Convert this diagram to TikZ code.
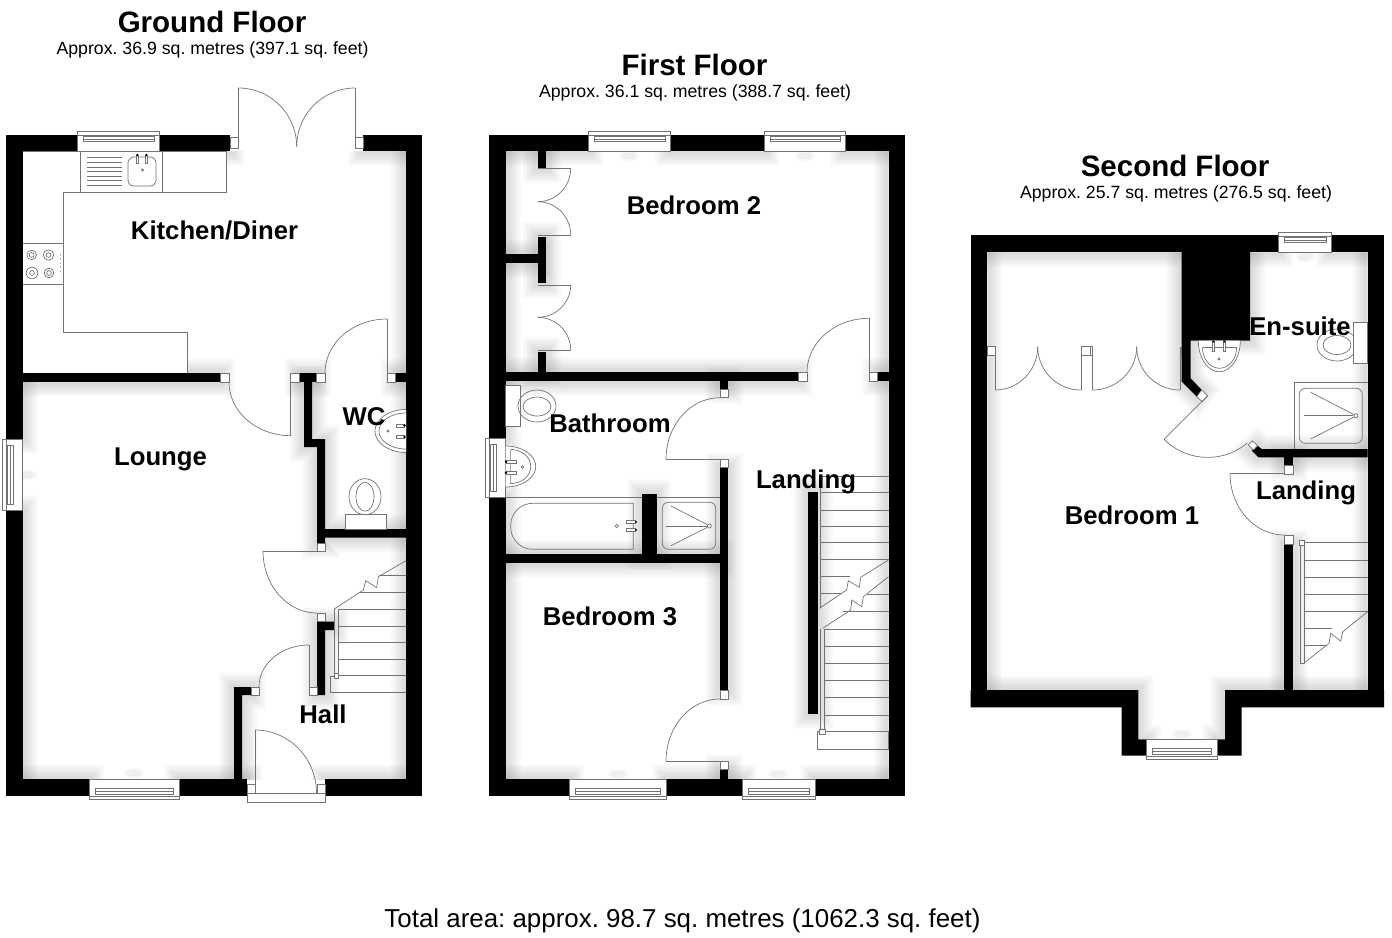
\documentclass[tikz,border=0pt]{standalone}
\usepackage{fontspec}
\setmainfont{Liberation Sans}
\frenchspacing
\definecolor{plan}{gray}{0.45}
\tikzset{
  ln/.style={draw=plan,line width=0.7pt},
  jamb/.style={draw=plan,line width=0.7pt,fill=white},
  wallpart/.style={fill=black},
  room/.style={font=\fontsize{25.7}{30}\bfseries\selectfont,inner sep=0pt},
  floortitle/.style={font=\fontsize{29.5}{33}\bfseries\selectfont,inner sep=0pt},
  floorsub/.style={font=\fontsize{17.7}{20}\selectfont,inner sep=0pt},
  totaltext/.style={font=\fontsize{25.9}{30}\selectfont,inner sep=0pt},
}
\newcommand{\R}[4]{\path[wallpart] (#1,#2) rectangle (#3,#4);}
\newcommand{\J}[4]{\draw[jamb] (#1,#2) rectangle (#3,#4);}
\newcommand{\earc}[6]{\draw[ln] plot[domain=#5:#6,samples=25] ({#1+#3*cos(\x)},{#2+#4*sin(\x)});}
\newcommand{\halfe}[6]{\draw[ln,fill=white] plot[domain=#5:#6,samples=31] ({#1+#3*cos(\x)},{#2+#4*sin(\x)});}
\newcommand{\winT}[3]{% top window protruding upward: x1 x2 inner y
  \draw[jamb] (#1,#3) rectangle (#2,{#3-20});
  \draw[ln] (#1,{#3-16}) -- (#2,{#3-16});
  \draw[ln] ({#1+6},{#3-15}) rectangle ({#2-5},{#3-9.5});
  \draw[ln] ({#1+6},{#3-12}) -- ({#2-5},{#3-12});
}
\newcommand{\winB}[3]{% bottom window protruding downward
  \draw[jamb] (#1,#3) rectangle (#2,{#3+20});
  \draw[ln] (#1,{#3+17}) -- (#2,{#3+17});
  \draw[ln] ({#1+6},{#3+9.5}) rectangle ({#2-6},{#3+15});
  \draw[ln] ({#1+6},{#3+12}) -- ({#2-6},{#3+12});
}
\newcommand{\winL}[3]{% left window: y1 y2 inner x
  \draw[jamb] (#3,#1) rectangle ({#3-20},#2);
  \draw[ln] ({#3-16},#1) -- ({#3-16},#2);
  \draw[ln] ({#3-15},{#1+6}) rectangle ({#3-9.5},{#2-6});
  \draw[ln] ({#3-12},{#1+6}) -- ({#3-12},{#2-6});
}
\newcommand{\blob}[2]{%
  \fill[black,opacity=.03] (#1,#2) ellipse [x radius=10,y radius=5];
  \fill[black,opacity=.03] (#1,#2) ellipse [x radius=7,y radius=3.5];
}
\newcommand{\GroundWalls}{%
  \R{6}{135}{22.5}{439}\R{6}{510}{22.5}{796}
  \R{6}{135}{77}{151}\R{159}{135}{230}{151}\R{363}{135}{422}{151}
  \R{406}{135}{422}{796}
  \R{6}{779}{89}{796}\R{179}{779}{247}{796}\R{325}{779}{422}{796}
  \R{22.5}{373}{220}{382}\R{299}{373}{316.5}{382}\R{395}{373}{406}{382}
  \path[wallpart] (304,382)--(312,382)--(312,439)--(325,439)--(325,529)--(406,529)--(406,537.7)--(325,537.7)--(325,543.5)--(317,543.5)--(317,447)--(304,447)--cycle;
  \path[wallpart] (317,621.5)--(334,621.5)--(334,630)--(325,630)--(325,695)--(317,695)--cycle;
  \path[wallpart] (234,687)--(251,687)--(251,695)--(242,695)--(242,779)--(234,779)--cycle;
}
\newcommand{\FirstWalls}{%
  \R{488.5}{134.5}{505.7}{438.3}\R{488.5}{497.7}{505.7}{795.7}
  \R{488.5}{134.5}{588}{151}\R{670}{134.5}{764}{151}\R{845}{134.5}{905}{151}
  \R{888.5}{134.5}{905}{795.7}
  \R{488.5}{779.3}{569.3}{795.7}\R{666.7}{779.3}{742.3}{795.7}\R{815}{779.3}{905}{795.7}
  \R{537.7}{151}{546}{168.3}\R{537.7}{236.7}{546}{283.3}\R{505.7}{254.3}{537.7}{263.3}\R{537.7}{351.7}{546}{372.3}
  \R{505.7}{372.3}{798.3}{381}\R{877.7}{372.3}{888.5}{381}
  \R{720}{381}{728.3}{389}\R{720}{467.7}{728.3}{690.7}\R{720}{769.3}{728.3}{779.3}
  \R{505.7}{554.3}{720}{562.7}\R{642.3}{494}{656.7}{554.3}
  \R{808.3}{491.7}{818.3}{714}
}
\newcommand{\SecondWalls}{%
  \R{970.7}{235}{1278.3}{252.3}\R{1331}{235}{1384}{252.3}
  \R{970.7}{235}{987.3}{707.3}\R{1367.7}{235}{1384}{707.3}
  \path[wallpart] (970.7,690)--(1138.3,690)--(1138.3,739.3)--(1146,739.3)--(1146,755.7)--(1121.7,755.7)--(1121.7,707.3)--(970.7,707.3)--cycle;
  \path[wallpart] (1217.3,739.3)--(1225,739.3)--(1225,690)--(1384,690)--(1384,707.3)--(1241.7,707.3)--(1241.7,755.7)--(1217.3,755.7)--cycle;
  \path[wallpart] (1181.7,252)--(1250,252)--(1250,340.7)--(1190.7,340.7)--(1190.7,378.3)--(1201.7,390)--(1196.7,396.7)--(1181.7,381.7)--cycle;
  \path[wallpart] (1257.7,445.7)--(1261.7,449)--(1367.7,449)--(1367.7,457.3)--(1258.3,457.3)--(1251.7,450.7)--cycle;
  \R{1284.3}{457.3}{1293.3}{465.7}
  \R{1284.3}{544}{1293.3}{690}
}
\begin{document}
\begin{tikzpicture}[x=1pt,y=-1pt]
\useasboundingbox (0,0) rectangle (1392,937);
% ---- soft shadows in the rooms
\begin{scope}
  \clip (22.5,151) rectangle (406,779);
  \foreach \w in {30,27,24,21,18,15,12,9,6}{
    \tikzset{wallpart/.style={draw=black,opacity=.014,line width=\w pt}}
    \GroundWalls
  }
  \blob{134}{773}\blob{28}{475}
\end{scope}
\begin{scope}
  \clip (505.7,151) rectangle (888.5,779.3);
  \foreach \w in {30,27,24,21,18,15,12,9,6}{
    \tikzset{wallpart/.style={draw=black,opacity=.014,line width=\w pt}}
    \FirstWalls
  }
  \blob{629}{156}\blob{805}{156}\blob{618}{774}\blob{778}{774}
\end{scope}
\begin{scope}
  \clip (987.3,252.3)--(1367.7,252.3)--(1367.7,690)--(1225,690)--(1225,739.3)--(1138.3,739.3)--(1138.3,690)--(987.3,690)--cycle;
  \foreach \w in {30,27,24,21,18,15,12,9,6}{
    \tikzset{wallpart/.style={draw=black,opacity=.014,line width=\w pt}}
    \SecondWalls
  }
  \blob{1305}{257}\blob{1182}{734}
\end{scope}
% ---- kitchen units (white over shadow)
\draw[ln,fill=white] (226,151)--(226,192)--(63,192)--(63,332)--(187.5,332)--(187.5,373)--(22.5,373)--(22.5,151)--cycle;
\draw[ln] (80.7,151) rectangle (162.7,192);
\foreach \y in {157,162,167,171,176,180.5,185}{\draw[ln] (87,\y)--(122,\y);}
\draw[ln,rounded corners=6pt] (128,157) rectangle (156,186);
\draw[ln,fill=white] (136.3,155) rectangle (138.3,163.5);
\draw[ln,fill=white] (145.3,155) rectangle (147.3,163.5);
\fill[black] (137.3,155) circle (1.3); \fill[black] (146.3,155) circle (1.3);
\draw[ln] (142.5,170) circle (1.2);
\draw[ln] (22.5,243) rectangle (63,284);
\foreach \p/\r in {31.7/4.8,48.5/5.2}{
  \draw[ln] (\p,255) circle (\r); \draw[ln] (\p,255) circle (2.4);
}
\foreach \p/\r in {32/5.8,49/4.8}{
  \draw[ln] (\p,273) circle (\r); \draw[ln] (\p,273) circle (2.4);
}
\foreach \y in {255,259,263,267,271}{\fill[plan] (60.5,\y) circle (.7);}
% ---- ground walls
\GroundWalls
\winT{77}{159}{151}
\winB{89}{179}{779}
\winL{439}{510}{22.5}
% french doors
\J{230}{137.5}{238.5}{148}\J{355}{137.5}{363}{148}
\draw[ln] (238.5,137.5)--(238.5,88);\draw[ln] (355,137.5)--(355,88);
\earc{238.5}{146.7}{58.2}{58.7}{270}{360}
\earc{355}{146.7}{58.3}{58.7}{180}{270}
% kitchen to lounge
\J{220}{373}{229}{382}\J{290.7}{373}{299}{382}
\draw[ln] (290.7,382)--(290.7,435.7);
\earc{290.7}{382}{61.7}{53.7}{90}{180}
% WC door
\J{316.5}{373}{325}{382}\J{387}{373}{395}{382}
\draw[ln] (387,373)--(387,319);
\earc{387}{373}{62}{54}{180}{270}
% lounge/hall door
\J{317}{543.5}{325}{551}\J{317}{613}{325}{621.5}
\draw[ln] (317,551)--(263,551);
\earc{317}{551}{54}{62}{90}{180}
% hall door
\J{309}{687}{317}{695}\J{251}{687}{259}{695}
\draw[ln] (309,687)--(309,645);
\earc{309}{687}{50}{42}{180}{270}
% entrance
\draw[jamb] (247,793) rectangle (325,802.7);
\J{247}{784}{255}{793}\J{317}{784}{325}{793}
\draw[ln] (255,784)--(255,730);
\earc{255}{793}{61.5}{63}{270}{360}
% ground stairs
\foreach \y in {609.7,626,642.7,659,675.7,692}{\draw[ln] (338,\y)--(406,\y);}
\draw[ln] (359,592.7)--(406,592.7);\draw[ln] (379,575.7)--(406,575.7);
\draw[ln] (330,676)--(330,692);\draw[ln] (330,676)--(334,676);
\draw[ln] (330,692)--(338,692);
\draw[ln] (334.3,609)--(334.3,676);\draw[ln] (338,609)--(338,676);
\draw[jamb] (334,673) rectangle (338.5,678);
\draw[ln] (334.3,609)--(363.3,590)--(365.7,580.7)--(376.7,587.7)--(378.3,576.7)--(406,560.7);
% WC fixtures
\halfe{406}{431}{31}{21.5}{90}{270}
\halfe{406}{431}{27}{18}{90}{270}
\draw[ln] (388,431) circle (1.2);
\draw[ln,fill=white] (396,424) rectangle (404,427);\fill[black] (404.5,425.5) circle (1.4);
\draw[ln,fill=white] (396,435.5) rectangle (404,438.5);\fill[black] (404.5,437) circle (1.4);
\draw[ln] (365,496.7) ellipse [x radius=16,y radius=18];
\draw[ln] (365,496.7) ellipse [x radius=9,y radius=14.5];
\draw[ln,fill=white] (345,514) rectangle (386,529);
% ---- first walls
\FirstWalls
\winT{588}{670}{151}\winT{764}{845}{151}
\winB{569.3}{666.7}{779.3}\winB{742.3}{815}{779.3}
\winL{438.3}{497.7}{505.7}
% closets
\draw[ln] (537.7,168.3)--(570.7,168.3);
\earc{537.7}{168.3}{33}{33.4}{0}{90}
\earc{537.7}{235}{33}{33.3}{270}{360}
\draw[ln] (537.7,235)--(570.7,235);
\draw[ln] (537.7,285)--(570.7,285);
\earc{537.7}{285}{33}{32.3}{0}{90}
\earc{537.7}{350}{33}{32.7}{270}{360}
\draw[ln] (537.7,350)--(570.7,350);
% bedroom 2 door
\J{798.3}{372.3}{807}{381}\J{869}{372.3}{877.7}{381}
\draw[ln] (869,372.3)--(869,318.3);
\earc{869}{372.3}{62}{54}{180}{270}
% bathroom door
\J{720}{389}{728.3}{397.7}\J{720}{459.3}{728.3}{467.7}
\draw[ln] (720,459.3)--(666,459.3);
\earc{720}{459.3}{54}{61.6}{180}{270}
% bedroom 3 door
\J{720}{690.7}{728.3}{699}\J{720}{761}{728.3}{769.3}
\draw[ln] (720,761)--(666,761);
\earc{720}{761}{54}{62}{180}{270}
% bathroom
\draw[ln,fill=white] (505.7,385.7) rectangle (520,426.7);
\draw[ln] (537,406) ellipse [x radius=19,y radius=16];
\draw[ln] (537,406.5) ellipse [x radius=14,y radius=9.5];
\halfe{505.7}{466.5}{30}{20.5}{-90}{90}
\draw[ln] (510.7,449.5)--(510.7,483.5);
\halfe{510.7}{466.5}{20}{17}{-90}{90}
\draw[ln,fill=white] (506,460.5) rectangle (516,463);\fill[black] (506,461.7) circle (1.3);
\draw[ln,fill=white] (506,471.5) rectangle (516,474);\fill[black] (506,472.7) circle (1.3);
\draw[ln] (522.5,467) circle (1.3);
\draw[ln] (505.7,497.3)--(642.3,497.3);
\draw[ln,rounded corners=22pt] (633.3,503.3)--(510.7,503.3)--(510.7,549.3)[sharp corners]--(633.3,549.3)--cycle;
\draw[ln,fill=white] (626,520.5) rectangle (635,523.5);\fill[black] (636,522) circle (1.2);
\draw[ln,fill=white] (626,528.5) rectangle (635,531.5);\fill[black] (636,530) circle (1.2);
\draw[ln] (616.7,526) circle (1.7);
\draw[ln] (656.7,497.3)--(720,497.3);
\draw[ln,rounded corners=6pt] (662.3,502.3) rectangle (715.7,549.3);
\draw[ln] (709.3,526) circle (2);
\draw[ln] (707,524.5)--(671,506);\draw[ln] (706.5,526)--(666,526);\draw[ln] (707,527.5)--(671,545.7);
% first stairs
\foreach \y in {476.7,492.7,510,526.7,542.7,559.3}{\draw[ln] (820,\y)--(888.5,\y);}
\draw[ln] (820,576)--(850,576);\draw[ln] (820,593.3)--(841,593.3);
\draw[ln] (867,594.3)--(888.5,594.3);\draw[ln] (843,611.7)--(888.5,611.7);
\foreach \y in {629,646,663.3,680,697.3,715,731.7}{\draw[ln] (824.3,\y)--(888.5,\y);}
\draw[ln] (817.3,731.7) rectangle (888.5,749.3);
\draw[ln] (820,476.7)--(820,608.3);
\draw[ln] (819.3,608.3)--(846.7,590)--(848.3,580.7)--(859.3,587.3)--(860.7,577.3)--(888.5,560);
\draw[ln] (822.7,628.3)--(850.7,610)--(851.7,600)--(861.7,606.7)--(863.3,596.7)--(888.5,576.7);
\draw[ln] (820,629)--(820,731.7);\draw[ln] (824.3,629)--(824.3,731.7);
\draw[jamb] (819.5,729) rectangle (825,734.5);
% ---- second walls
\SecondWalls
\winT{1278.3}{1331}{252.3}
\winB{1146}{1217.3}{739.3}
% wardrobes
\J{987.3}{346.7}{995}{355.7}
\draw[ln] (995,355.7)--(995,390);
\earc{995}{346.7}{42.7}{43.3}{0}{90}
\earc{1081}{346.7}{43.3}{43.3}{90}{180}
\J{1081}{346.7}{1090}{355.7}\J{1090}{346.7}{1092.5}{355.7}
\draw[ln] (1081,355.7)--(1081,390);\draw[ln] (1092.3,355.7)--(1092.3,390);
\earc{1092.3}{346.7}{44.4}{43.3}{0}{90}
\earc{1180}{346.7}{43.3}{43.3}{90}{180}
\J{1180}{347}{1181.7}{355}
\draw[ln] (1180,355)--(1180,390);
% en-suite door
\draw[jamb] (1201.7,390)--(1207.7,395.7)--(1202.3,401.7)--(1196.7,396.7)--cycle;
\draw[jamb] (1248.3,445)--(1252.3,440.7)--(1257.7,445.7)--(1253.3,450)--cycle;
\draw[ln] (1207.7,395.7)--(1164,439.3);
\earc{1207.7}{395.7}{61.7}{61.7}{50}{135}
% en-suite fixtures
\halfe{1219.3}{340.7}{21}{31}{0}{180}
\halfe{1219.5}{347.7}{17}{20.5}{0}{180}
\draw[ln] (1202.5,347.7)--(1236.5,347.7);
\draw[ln,fill=white] (1212.3,341.7) rectangle (1214.6,351.7);\fill[black] (1213.4,341.5) circle (1.2);
\draw[ln,fill=white] (1223.2,341.7) rectangle (1225.5,351.7);\fill[black] (1224.3,341.5) circle (1.2);
\draw[ln] (1219,359) circle (1.2);
\draw[ln] (1337,345) ellipse [x radius=20,y radius=16];
\draw[ln] (1337,345) ellipse [x radius=14,y radius=9.5];
\draw[ln,fill=white] (1353.3,322.7) rectangle (1367.7,363.3);
\draw[ln] (1294,449)--(1294,382.3)--(1367.7,382.3);
\draw[ln,rounded corners=6pt] (1299.3,388.3) rectangle (1362.3,443.3);
\draw[ln] (1356,415.7) circle (2);
\draw[ln] (1353.7,414.5)--(1310.7,392.3);\draw[ln] (1353,415.7)--(1304,415.7);\draw[ln] (1353.7,417)--(1310.7,439);
% landing door
\J{1284.3}{465.7}{1293.3}{474}\J{1284.3}{535}{1293.3}{544}
\draw[ln] (1284.3,473.5)--(1230,473.5);
\earc{1284.3}{473.5}{54.3}{61.5}{90}{180}
% second stairs
\foreach \y in {542.7,560,577.3,594.3,611.7}{\draw[ln] (1304.3,\y)--(1367.7,\y);}
\draw[ln] (1304.3,628.7)--(1332,628.7);\draw[ln] (1304.3,645.7)--(1327,645.7);
\draw[ln] (1300,542.7)--(1300,663.3)--(1304.3,663.3)--(1304.3,542.7);
\draw[jamb] (1299.5,540) rectangle (1304.8,545.5);
\draw[ln] (1304.3,662.7)--(1329,643.3)--(1330.7,633.3)--(1340.7,641)--(1342.7,631.7)--(1367.7,611.7);
% ---- labels
\node[floortitle] (t1) at (212,22) {Ground Floor};
\node[floorsub] (s1) at (212.5,50) {Approx. 36.9 sq. metres (397.1 sq. feet)};
\node[floortitle] (t2) at (694.5,65) {First Floor};
\node[floorsub] (s2) at (695,93) {Approx. 36.1 sq. metres (388.7 sq. feet)};
\node[floortitle] (t3) at (1175,166) {Second Floor};
\node[floorsub] (s3) at (1176,194) {Approx. 25.7 sq. metres (276.5 sq. feet)};
\node[room] (r1) at (214.5,230.5) {Kitchen/Diner};
\node[room] (r2) at (160.5,459) {Lounge};
\node[room] (r3) at (364,416.5) {WC};
\node[room] (r4) at (323,714.5) {Hall};
\node[room] (r5) at (694,205) {Bedroom 2};
\node[room] (r6) at (610,423) {Bathroom};
\node[room] (r7) at (806,481.5) {Landing};
\node[room] (r8) at (610,616) {Bedroom 3};
\node[room] (r9) at (1132,515) {Bedroom 1};
\node[room] (r10) at (1300,326.5) {En-suite};
\node[room] (r11) at (1306,492.5) {Landing};
\node[totaltext] (total) at (682.5,921) {Total area: approx. 98.7 sq. metres (1062.3 sq. feet)};
\end{tikzpicture}
\end{document}
